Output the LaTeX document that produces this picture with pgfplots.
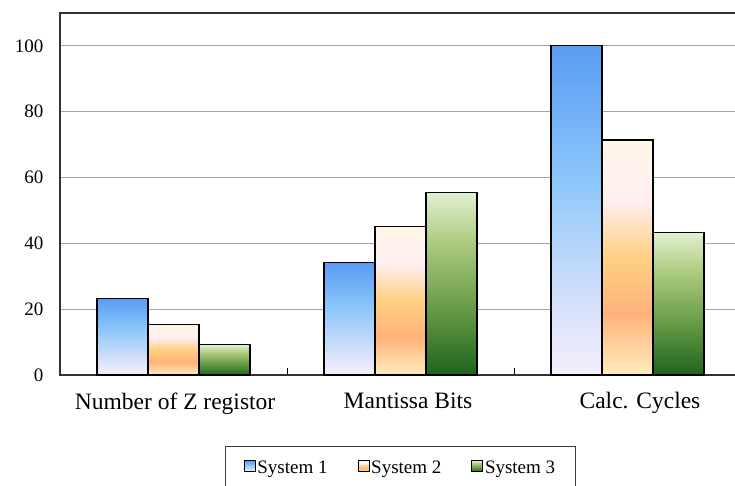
\documentclass[border=0pt]{standalone}
\usepackage{fontspec}
\setmainfont{Liberation Serif}
\usepackage{pgfplots}
\pgfplotsset{compat=1.18}

\definecolor{bl0}{RGB}{246,238,252}
\definecolor{bl1}{RGB}{215,225,250}
\definecolor{bl2}{RGB}{140,198,250}
\definecolor{bl3}{RGB}{88,155,242}
\definecolor{or0}{RGB}{255,236,190}
\definecolor{or1}{RGB}{255,178,122}
\definecolor{or2}{RGB}{255,208,130}
\definecolor{or3}{RGB}{255,238,240}
\definecolor{or4}{RGB}{255,246,232}
\definecolor{gr0}{RGB}{30,100,30}
\definecolor{gr1}{RGB}{110,160,75}
\definecolor{gr2}{RGB}{175,205,130}
\definecolor{gr3}{RGB}{226,240,210}

\pgfdeclareverticalshading{blueshade}{100bp}{color(0bp)=(bl0); color(25bp)=(bl0); color(35bp)=(bl1); color(55bp)=(bl2); color(75bp)=(bl3); color(100bp)=(bl3)}
\pgfdeclareverticalshading{orangeshade}{100bp}{color(0bp)=(or0); color(25bp)=(or0); color(38bp)=(or1); color(50bp)=(or2); color(62bp)=(or3); color(75bp)=(or4); color(100bp)=(or4)}
\pgfdeclareverticalshading{greenshade}{100bp}{color(0bp)=(gr0); color(25bp)=(gr0); color(45bp)=(gr1); color(62bp)=(gr2); color(75bp)=(gr3); color(100bp)=(gr3)}

\pgfplotsset{
  s1/.style={ybar, bar width=0.2247, bar shift=-0.2247, draw=black, line width=1.3pt, shading=blueshade},
  s2/.style={ybar, bar width=0.2247, bar shift=0, draw=black, line width=1.3pt, shading=orangeshade},
  s3/.style={ybar, bar width=0.2247, bar shift=0.2247, draw=black, line width=1.3pt, shading=greenshade},
}

\begin{document}
\begin{tikzpicture}
\useasboundingbox (0pt,0pt) rectangle (735pt,485pt);
\begin{axis}[
  at={(60pt,110pt)}, anchor=south west,
  scale only axis, width=681pt, height=362pt,
  xmin=-0.5, xmax=2.5, ymin=0, ymax=110,
  xtick={0.007,1.033,2.055},
  xticklabels={Number of Z registor, Mantissa Bits, Calc. Cycles},
  minor xtick={0.5,1.5},
  ytick={0,20,40,60,80,100},
  major tick length=0pt, minor tick length=7pt,
  tick align=inside, xtick pos=bottom, ytick pos=left,
  minor tick style={black, line width=1pt},
  ymajorgrids, grid style={draw={rgb,255:red,165;green,165;blue,165}, line width=1pt},
  axis line style={draw={rgb,255:red,50;green,50;blue,50}, line width=1.5pt},
  /pgf/number format/assume math mode=true,
  yticklabel style={font=\fontsize{19}{21}\selectfont, xshift=-13pt},
  xticklabel style={font=\fontsize{23.5}{25}\selectfont, yshift=-14pt},
  legend columns=3,
  legend style={at={(0.5,-0.196)}, anchor=north, draw={rgb,255:red,60;green,60;blue,60}, line width=1.2pt,
    font=\fontsize{19}{22}\selectfont, inner xsep=18pt, inner ysep=12pt,
    /tikz/every even column/.append style={column sep=28pt}},
  legend image code/.code={\draw[#1, line width=0.6pt] (0pt,-4pt) rectangle (11pt,7pt);},
]
\addplot[s1] coordinates {(0,23.3)};
\addplot[s2] coordinates {(0,15.4)};
\addplot[s3] coordinates {(0,9.3)};
\addplot[s1, forget plot] coordinates {(1,34.2)};
\addplot[s2, forget plot] coordinates {(1,45.2)};
\addplot[s3, forget plot] coordinates {(1,55.5)};
\addplot[s1, forget plot] coordinates {(2,100.2)};
\addplot[s2, forget plot] coordinates {(2,71.4)};
\addplot[s3, forget plot] coordinates {(2,43.3)};
\legend{System 1, System 2, System 3}
\end{axis}
\end{tikzpicture}
\end{document}
